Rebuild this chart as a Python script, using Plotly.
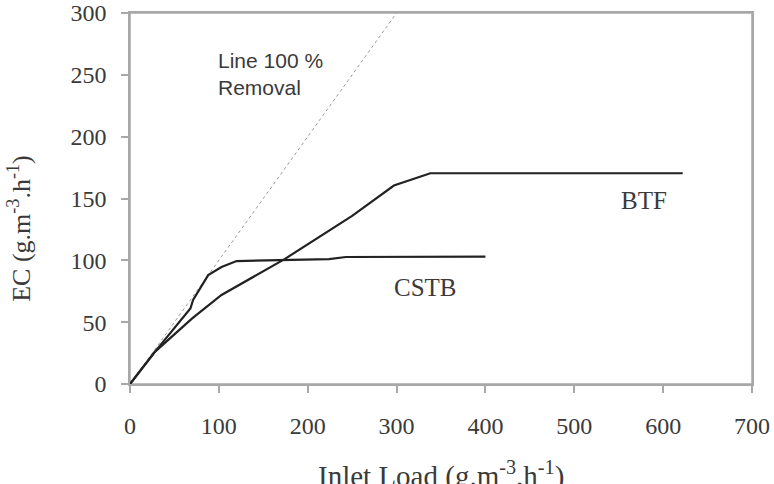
import plotly.graph_objects as go

# Data
cstb_x = [0, 28, 68, 71, 88, 103, 120, 174, 224, 243, 400]
cstb_y = [0, 26, 61, 68, 88, 94.6, 99.4, 100, 101, 102.7, 103]

btf_x = [0, 28, 70, 103, 174, 250, 297, 338, 622]
btf_y = [0, 26, 53, 72, 101, 136, 160.5, 170.4, 170.4]

line100_x = [0, 300]
line100_y = [0, 300]

x_ticks = [0, 100, 200, 300, 400, 500, 600, 700]
y_ticks = [0, 50, 100, 150, 200, 250, 300]

serif = "Liberation Serif, Times New Roman, serif"
sans = "Liberation Sans, Arial, sans-serif"
txt = "#3a3a3a"
axis_col = "#a8a8a8"

L, R, T, B = 129.5, 22, 12.5, 100
W, H = 774, 484
plot_w = W - L - R
plot_h = H - T - B

def px_x(p):
    return (p - L) / plot_w

def px_y(p):
    return (H - B - p) / plot_h

fig = go.Figure()
fig.add_trace(go.Scatter(x=line100_x, y=line100_y, mode="lines",
                         line=dict(color="#9a9a9a", width=1, dash="dot"),
                         showlegend=False))
fig.add_trace(go.Scatter(x=btf_x, y=btf_y, mode="lines",
                         line=dict(color="#222222", width=2.2),
                         showlegend=False))
fig.add_trace(go.Scatter(x=cstb_x, y=cstb_y, mode="lines",
                         line=dict(color="#222222", width=2.2),
                         showlegend=False))

axis_common = dict(showgrid=False, zeroline=False, automargin=False,
                   showline=True, linecolor=axis_col, linewidth=1.5, mirror=True,
                   ticks="outside", ticklen=7, tickcolor=axis_col, tickwidth=1.5,
                   ticklabeloverflow="allow",
                   tickfont=dict(family=serif, size=24, color=txt))

fig.update_layout(
    width=W, height=H,
    margin=dict(l=L, r=R, t=T, b=B, autoexpand=False),
    plot_bgcolor="white", paper_bgcolor="white",
    font=dict(family=serif, color=txt, size=24),
    xaxis=dict(range=[0, 700], tickvals=x_ticks, ticklabelstandoff=12, **axis_common),
    yaxis=dict(range=[0, 300], tickvals=y_ticks, ticklabelstandoff=10, **axis_common),
    shapes=[dict(type="rect", xref="paper", yref="paper", x0=0, x1=1, y0=0, y1=1,
                 line=dict(color=axis_col, width=1.5), layer="below")],
    annotations=[
        dict(text="Line 100 %<br>Removal", x=px_x(216), y=px_y(74), xref="paper", yref="paper",
             xanchor="left", yanchor="middle", align="left", showarrow=False,
             font=dict(family=sans, size=21, color=txt)),
        dict(text="BTF", x=px_x(644), y=px_y(200), xref="paper", yref="paper",
             xanchor="center", yanchor="middle", showarrow=False,
             font=dict(family=serif, size=25, color=txt)),
        dict(text="CSTB", x=px_x(425), y=px_y(287), xref="paper", yref="paper",
             xanchor="center", yanchor="middle", showarrow=False,
             font=dict(family=serif, size=25, color=txt)),
        dict(text="Inlet Load (g.m<sup>-3</sup>.h<sup>-1</sup>)", x=px_x(441), y=px_y(475),
             xref="paper", yref="paper", xanchor="center", yanchor="middle",
             showarrow=False, font=dict(family=serif, size=29, color=txt)),
        dict(text="EC (g.m<sup>-3</sup>.h<sup>-1</sup>)", x=px_x(19), y=px_y(228),
             xref="paper", yref="paper", xanchor="center", yanchor="middle",
             showarrow=False, textangle=-90, font=dict(family=serif, size=26, color=txt)),
    ],
)

fig.write_html("out.html")
